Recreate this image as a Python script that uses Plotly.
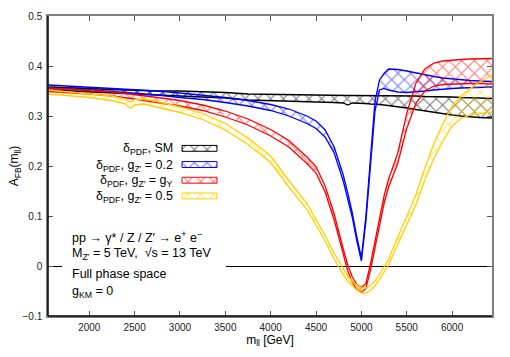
import plotly.graph_objects as go

# ---------------- data ----------------
mass = [1550, 1750, 2000, 2250, 2400, 2450, 2500, 2600, 2750, 3000, 3250, 3500, 3750,
        4000, 4200, 4400, 4500, 4600, 4700, 4800, 4850, 4900, 4950, 5000, 5050, 5100,
        5150, 5200, 5250, 5300, 5400, 5500, 5600, 5700, 5800, 5900, 6000, 6100, 6200,
        6300, 6440]

sm_lo = [.352, .350, .348, .346, .345, .345, .344, .343, .342, .340, .338, .336, .332,
         .331, .330, .329, .328, .328, .327, .326, .322, .326, .326, .325, .325, .324,
         .324, .323, .322, .321, .318, .316, .313, .310, .307, .304, .302, .300, .298,
         .297, .296]
sm_hi = [.358, .356, .355, .353, .352, .352, .352, .351, .350, .350, .349, .347, .344,
         .343, .343, .342, .342, .342, .341, .341, .341, .341, .341, .341, .341, .340,
         .340, .340, .340, .340, .340, .340, .340, .339, .339, .338, .338, .337, .337,
         .336, .335]

g02_lo = [.355, .354, .352, .349, .347, .346, .345, .344, .342, .337, .333, .327, .320,
          .311, .300, .285, .275, .258, .226, .170, .136, .097, .050, .010, .090, .210,
          .310, .352, .355, .352, .348, .347, .348, .350, .352, .354, .355, .356, .357,
          .358, .358]
g02_hi = [.362, .360, .358, .356, .354, .354, .353, .352, .350, .346, .342, .337, .331,
          .323, .314, .300, .290, .272, .238, .182, .146, .106, .058, .016, .100, .225,
          .330, .372, .385, .394, .393, .390, .386, .382, .379, .376, .374, .372, .371,
          .370, .369]

gy_lo = [.349, .347, .344, .340, .337, .335, .334, .331, .327, .320, .311, .298, .282,
         .260, .238, .205, .186, .148, .092, .022, -.010, -.033, -.047, -.053, -.045, -.008,
         .035, .080, .125, .158, .205, .275, .325, .350, .360, .363, .364, .365, .365,
         .365, .364]
gy_hi = [.356, .354, .351, .348, .345, .344, .343, .341, .337, .331, .322, .310, .294,
         .273, .251, .218, .199, .160, .104, .034, .002, -.022, -.037, -.043, -.035, .004,
         .047, .093, .140, .174, .225, .305, .365, .394, .406, .410, .412, .413, .414,
         .414, .415]

g05_lo = [.344, .341, .337, .331, .324, .315, .322, .324, .318, .307, .293, .272, .243,
          .207, .158, .113, .082, .050, .014, -.018, -.030, -.040, -.048, -.054, -.054, -.049,
          -.040, -.027, -.011, .002, .043, .083, .122, .172, .215, .250, .280, .295, .302,
          .305, .308]
g05_hi = [.352, .349, .345, .340, .334, .327, .333, .334, .329, .318, .305, .285, .256,
          .220, .171, .125, .093, .061, .025, -.007, -.020, -.030, -.038, -.044, -.044, -.039,
          -.030, -.017, .000, .014, .057, .100, .142, .196, .245, .285, .320, .340, .355,
          .368, .382]

series_labels = ["δ<sub>PDF</sub>, SM",
                 "δ<sub>PDF</sub>, g<sub>Z′</sub> = 0.2",
                 "δ<sub>PDF</sub>, g<sub>Z′</sub> = g<sub>Y</sub>",
                 "δ<sub>PDF</sub>, g<sub>Z′</sub> = 0.5"]
series_lo = [sm_lo, g02_lo, gy_lo, g05_lo]
series_hi = [sm_hi, g02_hi, gy_hi, g05_hi]

x_ticks = [2000, 2500, 3000, 3500, 4000, 4500, 5000, 5500, 6000]
y_ticks = [-0.1, 0, 0.1, 0.2, 0.3, 0.4, 0.5]

info_lines = ["pp → γ* / Z / Z′ → e<sup>+</sup> e<sup>−</sup>",
              "M<sub>Z′</sub> = 5 TeV,\u00a0 √s = 13 TeV",
              "Full phase space",
              "g<sub>KM</sub> = 0"]

# ---------------- styling / layout ----------------
colors = ["#000000", "#0000ff", "#ff0000", "#ffd000"]
FONT = "Liberation Sans, Arial, sans-serif"
W, H = 510, 357
PL, PR, PT, PB = 48, 492, 10, 316   # plot area in page pixels
L, T, R, B = PL, PT, W - PR, H - PB


def fx(px):
    return (px - PL) / (PR - PL)


def fy(py):
    return (PB - py) / (PB - PT)


def pattern(c):
    return dict(shape="x", fgcolor=c, bgcolor="rgba(0,0,0,0)", size=9, solidity=0.25)


fig = go.Figure()

for lab, lo, hi, c in zip(series_labels, series_lo, series_hi, colors):
    fig.add_trace(go.Scatter(x=mass, y=hi, mode="lines", line=dict(color=c, width=1.3),
                             showlegend=False, hoverinfo="skip"))
    fig.add_trace(go.Scatter(x=mass, y=lo, mode="lines", line=dict(color=c, width=1.3),
                             fill="tonexty", fillcolor="rgba(0,0,0,0)", fillpattern=pattern(c),
                             name=lab, showlegend=False))

# custom key (text right-aligned, hatched swatch on the right)
row_py = [145, 161.5, 177.5, 193.5]
sx0, sx1 = fx(182), fx(217)
for lab, c, py in zip(series_labels, colors, row_py):
    y0, y1 = fy(py + 3), fy(py - 3)
    fig.add_trace(go.Scatter(x=[sx0, sx1, sx1, sx0, sx0], y=[y0, y0, y1, y1, y0],
                             xaxis="x2", yaxis="y2", mode="lines",
                             line=dict(color=c, width=1), fill="toself",
                             fillcolor="rgba(0,0,0,0)", fillpattern=pattern(c),
                             showlegend=False, hoverinfo="skip"))
    fig.add_annotation(xref="paper", yref="paper", x=fx(175), y=fy(py + 1), xanchor="right",
                       yanchor="middle", text=lab, showarrow=False,
                       font=dict(family=FONT, size=12.5, color="#000"))

info_py = [235, 253, 273, 292]
for txt, py in zip(info_lines, info_py):
    fig.add_annotation(xref="paper", yref="paper", x=fx(70), y=fy(py), xanchor="left",
                       yanchor="middle", text=txt, showarrow=False,
                       font=dict(family=FONT, size=12.5, color="#000"))

axis_common = dict(showgrid=False, ticks="inside", ticklen=5, tickcolor="#555",
                   tickwidth=1, showline=True, linecolor="#808080", linewidth=1.5,
                   mirror="ticks", ticklabeloverflow="allow",
                   tickfont=dict(family=FONT, size=10, color="#222"))

fig.update_layout(
    width=W, height=H, margin=dict(l=L, r=R, t=T, b=B),
    paper_bgcolor="white", plot_bgcolor="white", showlegend=False,
    xaxis=dict(range=[1545, 6440], tickvals=x_ticks, zeroline=False,
               ticklabelstandoff=1,
               title=dict(text="m<sub>ll</sub> [GeV]", standoff=3,
                          font=dict(family=FONT, size=12, color="#000")),
               **axis_common),
    yaxis=dict(range=[-0.1, 0.5], tickvals=y_ticks, zeroline=True, zerolinecolor="#000",
               zerolinewidth=1, ticklabelstandoff=2,
               title=dict(text="A<sub>FB</sub>(m<sub>ll</sub>)", standoff=1,
                          font=dict(family=FONT, size=12, color="#000")),
               **axis_common),
    xaxis2=dict(overlaying="x", anchor="y2", range=[0, 1], visible=False),
    yaxis2=dict(overlaying="y", anchor="x2", range=[0, 1], visible=False),
    shapes=[
        dict(type="line", xref="paper", yref="paper", x0=0, x1=0, y0=0, y1=1,
             line=dict(color="#000", width=1.5), layer="above"),
        dict(type="line", xref="paper", yref="paper", x0=0, x1=1, y0=0, y1=0,
             line=dict(color="#000", width=1.5), layer="above"),
        dict(type="rect", xref="paper", yref="paper", x0=fx(62), x1=fx(226),
             y0=fy(268), y1=fy(260), fillcolor="white", line=dict(width=0), layer="above"),
    ],
)

# the page's default 8px body margin would shift the figure; remove it
fig.write_html("out.html", config={"displayModeBar": False},
               post_script="document.body.style.margin='0px';")
